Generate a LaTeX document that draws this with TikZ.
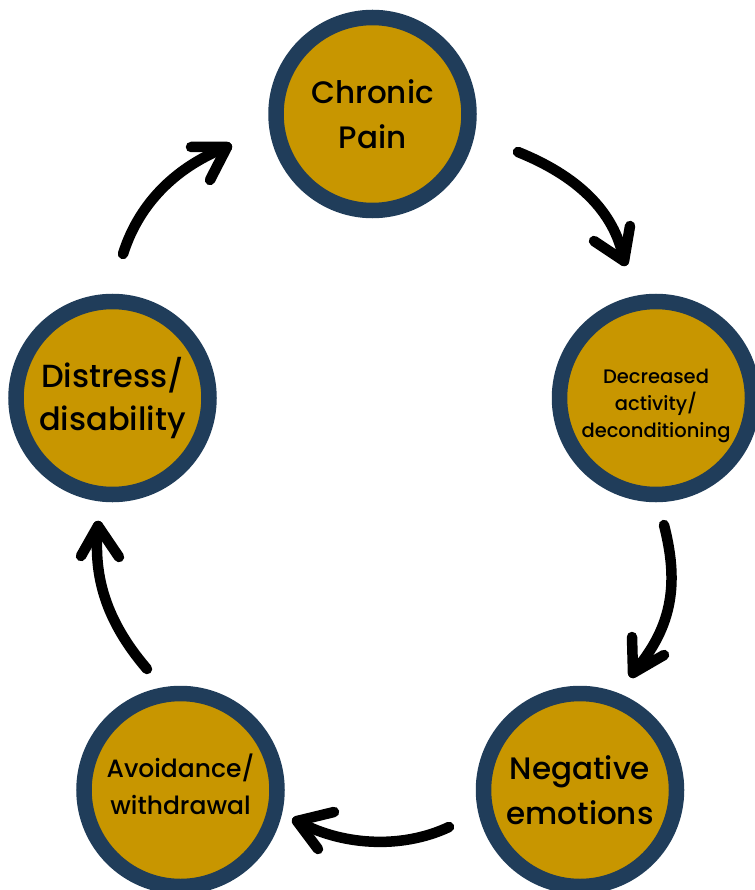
\documentclass[tikz,border=0pt]{standalone}
\usepackage{fontspec}
\setmainfont{Poppins}[UprightFont={* Medium}]
\definecolor{ringnavy}{RGB}{32,61,90}
\definecolor{discgold}{RGB}{200,150,0}
\begin{document}
\begin{tikzpicture}[x=1pt,y=-1pt,
  disc/.style={circle,draw=ringnavy,line width=15.5pt,fill=discgold,minimum size=193pt,inner sep=0pt},
  lbl/.style={align=center,text=black,inner sep=0pt},
  big/.style={font=\fontsize{31}{45}\selectfont},
  bigger/.style={font=\fontsize{32}{43}\selectfont},
  mid/.style={font=\fontsize{25}{37}\selectfont},
  small/.style={font=\fontsize{19.5}{27}\selectfont},
  shaft/.style={line width=10.5pt,line cap=round,draw=black},
  head/.style={line width=10.5pt,line cap=round,line join=round,draw=black}]
\useasboundingbox (0,0) rectangle (754,890);
\node[disc] (cp) at (372.5,114) {};
\node[disc] (da) at (656,398) {};
\node[disc] (ne) at (580,790) {};
\node[disc] (aw) at (180.5,790) {};
\node[disc] (dd) at (112.5,398) {};
\node[lbl,big] (cpt) at (cp.center) {Chronic\\Pain};
\node[lbl,small] (dat) at ([yshift=-8pt]da.center) {Decreased\\activity/\\deconditioning};
\node[lbl,big] (net) at (ne.center) {Negative\\emotions};
\node[lbl,mid] (awt) at ([yshift=6pt]aw.center) {Avoidance/\\withdrawal};
\node[lbl,bigger] (ddt) at (dd.center) {Distress/\\disability};
% arrow 1
\coordinate (a1s) at (518,152); \coordinate (a1t) at (624,261);
\coordinate (a1l) at (594,241); \coordinate (a1r) at (630,226);
\draw[shaft] (a1s) .. controls (575,175) and (615,210) .. (a1t);
\draw[head] (a1l) -- (a1t) -- (a1r);
% arrow 2
\coordinate (a2s) at (664,525); \coordinate (a2t) at (633,673);
\coordinate (a2l) at (632,637); \coordinate (a2r) at (664,655);
\draw[shaft] (a2s) .. controls (678,580) and (675,625) .. (a2t);
\draw[head] (a2l) -- (a2t) -- (a2r);
% arrow 3
\coordinate (a3s) at (449,827); \coordinate (a3t) at (297,821);
\coordinate (a3l) at (334,812); \coordinate (a3r) at (318,849);
\draw[shaft] (a3s) .. controls (400,850) and (340,845) .. (a3t);
\draw[head] (a3l) -- (a3t) -- (a3r);
% arrow 4
\coordinate (a4s) at (147,669); \coordinate (a4t) at (98,526);
\coordinate (a4l) at (81,556); \coordinate (a4r) at (119,557);
\draw[shaft] (a4s) .. controls (105,620) and (93,575) .. (a4t);
\draw[head] (a4l) -- (a4t) -- (a4r);
% arrow 5
\coordinate (a5s) at (123,254); \coordinate (a5t) at (227,147);
\coordinate (a5l) at (191,147); \coordinate (a5r) at (210,180);
\draw[shaft] (a5s) .. controls (140,200) and (180,165) .. (a5t);
\draw[head] (a5l) -- (a5t) -- (a5r);
\end{tikzpicture}
\end{document}
